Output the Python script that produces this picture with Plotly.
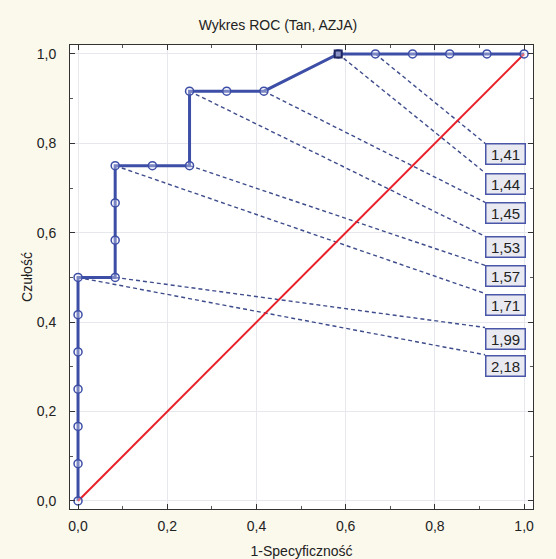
import plotly.graph_objects as go

# ROC curve points: 1 - specificity (x) and sensitivity (y)
fpr = [0.0, 0.0, 0.0, 0.0, 0.0, 0.0, 0.0, 0.0833, 0.0833, 0.0833, 0.0833,
       0.1667, 0.25, 0.25, 0.3333, 0.4167, 0.5833, 0.6667, 0.75, 0.8333,
       0.9167, 1.0]
tpr = [0.0, 0.0833, 0.1667, 0.25, 0.3333, 0.4167, 0.5, 0.5, 0.5833, 0.6667,
       0.75, 0.75, 0.75, 0.9167, 0.9167, 0.9167, 1.0, 1.0, 1.0, 1.0, 1.0, 1.0]

# optimal cut-off point
opt_fpr = [0.5833]
opt_tpr = [1.0]

# cut-off values shown next to selected points
cut_text = ["1,41", "1,44", "1,45", "1,53", "1,57", "1,71", "1,99", "2,18"]
cut_fpr = [0.6667, 0.5833, 0.4167, 0.25, 0.25, 0.0833, 0.0833, 0.0]
cut_tpr = [1.0, 1.0, 0.9167, 0.9167, 0.75, 0.75, 0.5, 0.5]

# reference diagonal
diag_x = [0.0, 1.0]
diag_y = [0.0, 1.0]

# placement of the cut-off label boxes (top-left corners)
box_x = 0.9126
box_top = [0.800, 0.734, 0.668, 0.592, 0.527, 0.464, 0.388, 0.327]

BLUE = "#3D4EA6"
FONT = "Liberation Sans, Arial, sans-serif"
TXT = "#222222"

fig = go.Figure()

# dashed leader lines from points to label boxes
for fx, ty, by in zip(cut_fpr, cut_tpr, box_top):
    fig.add_trace(go.Scatter(
        x=[fx, box_x], y=[ty, by], mode="lines",
        line=dict(color="#3E4C8C", width=1.4, dash="4px,3px"),
        hoverinfo="skip", showlegend=False))

fig.add_trace(go.Scatter(
    x=fpr, y=tpr, mode="lines",
    line=dict(color=BLUE, width=3), showlegend=False))

fig.add_trace(go.Scatter(
    x=diag_x, y=diag_y, mode="lines",
    line=dict(color="#E8202A", width=2), showlegend=False))

fig.add_trace(go.Scatter(
    x=fpr, y=tpr, mode="markers",
    marker=dict(symbol="circle", size=8, color="rgba(240,242,252,0.35)",
                line=dict(color=BLUE, width=1.5)),
    showlegend=False))

fig.add_trace(go.Scatter(
    x=opt_fpr, y=opt_tpr, mode="markers",
    marker=dict(symbol="square", size=7, color="#8A93C4",
                line=dict(color="#1F2760", width=2)),
    showlegend=False))

for txt, by in zip(cut_text, box_top):
    fig.add_annotation(
        x=box_x, y=by, xref="x", yref="y", text=txt, showarrow=False,
        xanchor="left", yanchor="top", width=35, height=16,
        bgcolor="#E9EAF1", bordercolor="#4A57A8", borderwidth=1.5,
        borderpad=1.5, font=dict(family=FONT, size=15, color=TXT))

axis_common = dict(
    range=[-0.018, 1.02], dtick=0.2, tick0=0, tickformat=".1f",
    ticks="inside", ticklen=5, tickcolor="#333333", tickwidth=1,
    minor=dict(dtick=0.1, ticks="inside", ticklen=3, tickcolor="#555555",
               showgrid=False),
    showline=True, linecolor="#333333", linewidth=1, mirror="allticks",
    showgrid=True, gridcolor="#E6E8EE", gridwidth=1, zeroline=False,
    automargin=False,
    tickfont=dict(family=FONT, size=14, color=TXT),
)

fig.update_xaxes(**axis_common, ticklabelstandoff=4,
                 title=dict(text="1-Specyficzność", standoff=14,
                            font=dict(family=FONT, size=14, color=TXT)))
fig.update_yaxes(**axis_common, ticklabelstandoff=10,
                 title=dict(text="Czułość", standoff=0,
                            font=dict(family=FONT, size=14, color=TXT)))

fig.update_layout(
    width=556, height=559,
    margin=dict(l=70, r=23, t=45, b=50),
    paper_bgcolor="#FBF8EC", plot_bgcolor="#FFFFFF",
    separators=", ",
    title=dict(text="Wykres ROC (Tan, AZJA)", x=0.5, xanchor="center",
               y=1 - 25 / 559, yanchor="middle",
               font=dict(family=FONT, size=14, color=TXT)),
    showlegend=False,
)

fig.write_html("out.html")
